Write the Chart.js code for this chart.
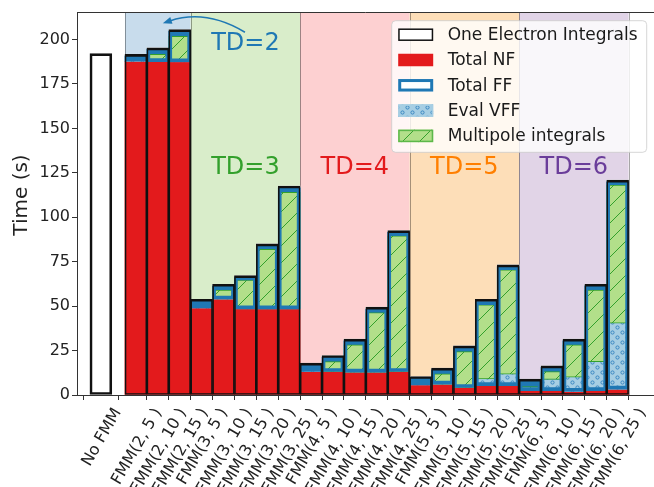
<!DOCTYPE html>
<html><head><meta charset="utf-8">
<script src="https://cdn.jsdelivr.net/npm/chart.js@4.4.1/dist/chart.umd.min.js"></script>
<style>html,body{margin:0;padding:0;background:#fff}#wrap{width:654px;height:487px}</style>
</head><body><div id="wrap"><canvas id="c" width="654" height="487"></canvas></div>
<script>
// ---------- data ----------
const categories = ['No FMM',
  'FMM(2, 5 )','FMM(2, 10 )','FMM(2, 15 )',
  'FMM(3, 5 )','FMM(3, 10 )','FMM(3, 15 )','FMM(3, 20 )','FMM(3, 25 )',
  'FMM(4, 5 )','FMM(4, 10 )','FMM(4, 15 )','FMM(4, 20 )','FMM(4, 25 )',
  'FMM(5, 5 )','FMM(5, 10 )','FMM(5, 15 )','FMM(5, 20 )','FMM(5, 25 )',
  'FMM(6, 5 )','FMM(6, 10 )','FMM(6, 15 )','FMM(6, 20 )','FMM(6, 25 )'];
const xPositions = [-1.6, 0,1,2, 3,4,5,6,7, 8,9,10,11,12, 13,14,15,16,17, 18,19,20,21,22];
const totalTime = [192.1, 191.7,195.3,205.6, 53.9,62.3,67.2,85.0,117.6, 17.9,22.2,31.4,49.4,92.5, 10.4,15.1,27.6,53.9,73.2, 8.9,16.4,31.4,62.3,120.9];
const totalNF   = [null, 187.8,187.6,187.5, 49.0,54.0,48.5,48.5,48.5, 13.2,13.2,12.9,12.9,13.2, 5.7,6.1,4.2,5.3,5.3, 2.5,2.5,2.0,2.5,3.3];
const totalFF   = [null, 3.0,7.0,17.2, 3.9,7.3,17.9,35.5,68.1, 3.8,8.1,17.6,35.5,78.3, 3.8,8.1,22.5,47.2,66.9, 5.5,13.0,28.5,58.9,116.7];
const evalVFF   = [null, 0,0,0, 0,0,0,0,0, 0,0,0,0,0, 0,0,0,3.8,6.4, 0.5,6.2,8.0,16.3,37.1];
const multipole = [null, 0,4.1,14.3, 0,5.0,16.2,33.5,65.5, 0,5.6,15.3,33.5,76.4, 0,5.8,20.2,41.6,58.7, 1.8,4.5,18.2,40.3,77.7];
const yTicks = [0,25,50,75,100,125,150,175,200];
const yTitle = 'Time (s)';
const tdLabels = ['TD=2','TD=3','TD=4','TD=5','TD=6'];
const tdGroupSizes = [3,5,5,5,5];
const tdLabelX = [5,5,10,15,20];
const tdLabelY = [197.5,128,128,128,128];
const legendLabels = ['One Electron Integrals','Total NF','Total FF','Eval VFF','Multipole integrals'];

// ---------- styles ----------
const FONT = '"DejaVu Sans", sans-serif';
const RED='#e31a1c', BLUE='#1f78b4', LBLUE='#a6cee3', GREEN='#33a02c', LGREEN='#b2df8a';
const tdTextColors = ['#1f78b4','#33a02c','#e31a1c','#ff7f00','#6a3d9a'];
const tdBgColors = ['#c8dcec','#d9edca','#fdd0d1','#fddeb8','#e1d4e7'];

const cv = document.getElementById('c');
const mainCtx = cv.getContext('2d');
function makePattern(bg, draw, size){
  const c=document.createElement('canvas'); c.width=c.height=size;
  const g=c.getContext('2d'); g.fillStyle=bg; g.fillRect(0,0,size,size); draw(g,size);
  return mainCtx.createPattern(c,'repeat');
}
const hatchPattern = makePattern(LGREEN,(g,s)=>{g.strokeStyle=GREEN;g.lineWidth=1;g.beginPath();
  g.moveTo(0,s);g.lineTo(s,0);g.moveTo(-2,2);g.lineTo(2,-2);g.moveTo(s-2,s+2);g.lineTo(s+2,s-2);g.stroke();},17);
const dotPattern = makePattern(LBLUE,(g,s)=>{g.strokeStyle='#3b88c2';g.lineWidth=1;
  [[2.5,2.5],[7.5,7.5]].forEach(([x,y])=>{g.beginPath();g.arc(x,y,1.6,0,Math.PI*2);g.stroke();});},10);

const fmmIdx = totalNF.map((v,i)=>v===null?-1:i).filter(i=>i>=0);
const pts = (f)=> fmmIdx.map(i=>({x:xPositions[i], y:f(i)}));

const datasets = [
  {label:'totalEdge', order:0, data: xPositions.map((x,i)=>({x, y:[0,totalTime[i]]})),
   backgroundColor:'rgba(0,0,0,0)', borderColor:'#111', borderSkipped:false,
   borderWidth:(c)=> c.dataIndex===0 ? 2 : {top:2,left:1,right:1,bottom:1}},
  {label:'ffBorder', order:1, data: pts(i=>[totalNF[i], totalNF[i]+totalFF[i]]),
   backgroundColor:'rgba(0,0,0,0)', borderColor:BLUE, borderWidth:3, borderSkipped:false},
  {label:'Multipole integrals', order:2, data: pts(i=>[totalNF[i]+evalVFF[i], totalNF[i]+evalVFF[i]+multipole[i]]),
   backgroundColor:hatchPattern, borderColor:GREEN, borderWidth:1, borderSkipped:false},
  {label:'Eval VFF', order:3, data: pts(i=>[totalNF[i], totalNF[i]+evalVFF[i]]),
   backgroundColor:dotPattern, borderWidth:0},
  {label:'ffFill', order:4, data: pts(i=>[totalNF[i], totalNF[i]+totalFF[i]]),
   backgroundColor:BLUE, borderWidth:0},
  {label:'Total NF', order:5, data: pts(i=>[0,totalNF[i]]), backgroundColor:RED, borderWidth:0},
  {label:'totalFill', order:6, data: xPositions.map((x,i)=>({x, y:[0,totalTime[i]]})),
   backgroundColor:'#ffffff', borderWidth:0},
];
datasets.forEach(d=>{d.grouped=false; d.categoryPercentage=1; d.barPercentage=1;});

const decor = {
  id:'decor',
  beforeDatasetsDraw(chart){
    const {ctx, chartArea:a, scales:{x}} = chart;
    ctx.save();
    let start=0;
    tdGroupSizes.forEach((n,g)=>{
      const i0 = fmmIdx[start], i1 = fmmIdx[start+n-1];
      const x0 = x.getPixelForValue(xPositions[i0]-0.5), x1 = x.getPixelForValue(xPositions[i1]+0.5);
      ctx.fillStyle = tdBgColors[g]; ctx.fillRect(x0,a.top,x1-x0,a.bottom-a.top);
      ctx.strokeStyle='rgba(0,0,0,0.35)'; ctx.lineWidth=1;
      ctx.beginPath(); ctx.moveTo(Math.round(x0)+0.5,a.top); ctx.lineTo(Math.round(x0)+0.5,a.bottom);
      ctx.moveTo(Math.round(x1)+0.5,a.top); ctx.lineTo(Math.round(x1)+0.5,a.bottom); ctx.stroke();
      start += n;
    });
    ctx.restore();
  },
  afterDatasetsDraw(chart){
    const {ctx, chartArea:a, scales:{x,y}} = chart;
    ctx.save();
    // top spine
    ctx.strokeStyle='#333'; ctx.lineWidth=1; ctx.beginPath();
    ctx.moveTo(a.left, Math.round(a.top)+0.5); ctx.lineTo(a.right, Math.round(a.top)+0.5); ctx.stroke();
    // TD labels
    ctx.font = '24px '+FONT; ctx.textAlign='center'; ctx.textBaseline='middle';
    tdLabels.forEach((t,i)=>{ ctx.fillStyle=tdTextColors[i];
      ctx.fillText(t, x.getPixelForValue(tdLabelX[i]), y.getPixelForValue(tdLabelY[i])); });
    // arrow
    const S=[x.getPixelForValue(4.98),y.getPixelForValue(204.1)];
    const C=[x.getPixelForValue(3.2),y.getPixelForValue(217.3)];
    const E=[x.getPixelForValue(1.23),y.getPixelForValue(209.2)];
    ctx.strokeStyle=BLUE; ctx.fillStyle=BLUE; ctx.lineWidth=1.5;
    const ang=Math.atan2(E[1]-C[1],E[0]-C[0]);
    const hl=9, hw=3.5;
    const Eb=[E[0]-hl*0.8*Math.cos(ang),E[1]-hl*0.8*Math.sin(ang)];
    ctx.beginPath(); ctx.moveTo(S[0],S[1]); ctx.quadraticCurveTo(C[0],C[1],Eb[0],Eb[1]); ctx.stroke();
    ctx.beginPath(); ctx.moveTo(E[0],E[1]);
    ctx.lineTo(E[0]-hl*Math.cos(ang)+hw*Math.sin(ang), E[1]-hl*Math.sin(ang)-hw*Math.cos(ang));
    ctx.lineTo(E[0]-hl*Math.cos(ang)-hw*Math.sin(ang), E[1]-hl*Math.sin(ang)+hw*Math.cos(ang));
    ctx.closePath(); ctx.fill();
    ctx.restore();
  },
  afterDraw(chart){
    const {ctx, chartArea:a, scales:{x}} = chart;
    ctx.save();
    // y title
    ctx.save(); ctx.font='20px '+FONT; ctx.fillStyle='#222'; ctx.textAlign='center'; ctx.textBaseline='middle';
    ctx.translate(22, (a.top+a.bottom)/2 - 8.5); ctx.rotate(-Math.PI/2); ctx.fillText(yTitle,0,0); ctx.restore();
    // x tick labels (rotated, centred under tick)
    const th = 60*Math.PI/180, fs=16, H=fs*1.164;
    ctx.font = fs+'px '+FONT; ctx.fillStyle='#222'; ctx.textAlign='left'; ctx.textBaseline='bottom';
    categories.forEach((lab,i)=>{
      const L = ctx.measureText(lab).width;
      const W = L*Math.cos(th)+H*Math.sin(th);
      const px = x.getPixelForValue(xPositions[i]);
      const left = px - W/2, top = a.bottom + 5 + 4.5;
      const x0 = left + H*Math.sin(th), y0 = top + L*Math.sin(th) + H*Math.cos(th);
      ctx.save(); ctx.translate(x0,y0); ctx.rotate(-th); ctx.fillText(lab,0,0); ctx.restore();
    });
    // legend
    const bx = a.right - 7.3 - 255, by = a.top + 8.7, bw = 255, bh = 131.6, r=4;
    ctx.beginPath();
    ctx.moveTo(bx+r,by); ctx.lineTo(bx+bw-r,by); ctx.arcTo(bx+bw,by,bx+bw,by+r,r);
    ctx.lineTo(bx+bw,by+bh-r); ctx.arcTo(bx+bw,by+bh,bx+bw-r,by+bh,r);
    ctx.lineTo(bx+r,by+bh); ctx.arcTo(bx,by+bh,bx,by+bh-r,r);
    ctx.lineTo(bx,by+r); ctx.arcTo(bx,by,bx+r,by,r); ctx.closePath();
    ctx.fillStyle='rgba(255,255,255,0.8)'; ctx.fill();
    ctx.strokeStyle='rgba(204,204,204,0.8)'; ctx.lineWidth=1; ctx.stroke();
    const sw=35, sh=12.5, sx=bx+6.5;
    const styles=[
      {fill:'#fff', stroke:'#111', lw:1.5},
      {fill:RED, stroke:null, lw:0},
      {fill:'#fff', stroke:BLUE, lw:3},
      {fill:dotPattern, stroke:LBLUE, lw:1.5},
      {fill:hatchPattern, stroke:'#5cb84a', lw:1.5},
    ];
    ctx.font='17px '+FONT; ctx.textBaseline='middle'; ctx.textAlign='left';
    legendLabels.forEach((lab,i)=>{
      const cy = by + 14 + i*25.3;
      const st = styles[i];
      ctx.fillStyle=st.fill; ctx.fillRect(sx, cy-sh/2, sw, sh);
      if(st.stroke){ ctx.strokeStyle=st.stroke; ctx.lineWidth=st.lw;
        ctx.strokeRect(sx+st.lw/2, cy-sh/2+st.lw/2, sw-st.lw, sh-st.lw); }
      ctx.fillStyle='#1a1a1a'; ctx.fillText(lab, bx+56, cy+1);
    });
    ctx.restore();
  }
};

new Chart(cv, {
  type:'bar',
  data:{datasets},
  options:{
    responsive:false, devicePixelRatio:1, animation:false,
    layout:{padding:{left:0,top:12,right:0,bottom:0}},
    plugins:{legend:{display:false}, tooltip:{enabled:false}},
    scales:{
      x:{type:'linear', min:-2.69, max:23.66, offset:false,
         afterBuildTicks:s=>{s.ticks = xPositions.map(v=>({value:v}));},
         grid:{drawOnChartArea:false, drawTicks:true, tickLength:5, color:'#333'},
         border:{display:true, color:'#333', width:1},
         ticks:{display:false},
         afterFit:s=>{s.height=92;}},
      y:{min:0, max:215.5,
         afterBuildTicks:s=>{s.ticks = yTicks.map(v=>({value:v}));},
         grid:{drawOnChartArea:false, drawTicks:true, tickLength:5, color:'#333'},
         border:{display:true, color:'#333', width:1},
         ticks:{font:{family:FONT,size:16}, color:'#222', padding:2},
         title:{display:false},
         afterFit:s=>{s.width=77;}}
    }
  },
  plugins:[decor]
});
</script></body></html>
